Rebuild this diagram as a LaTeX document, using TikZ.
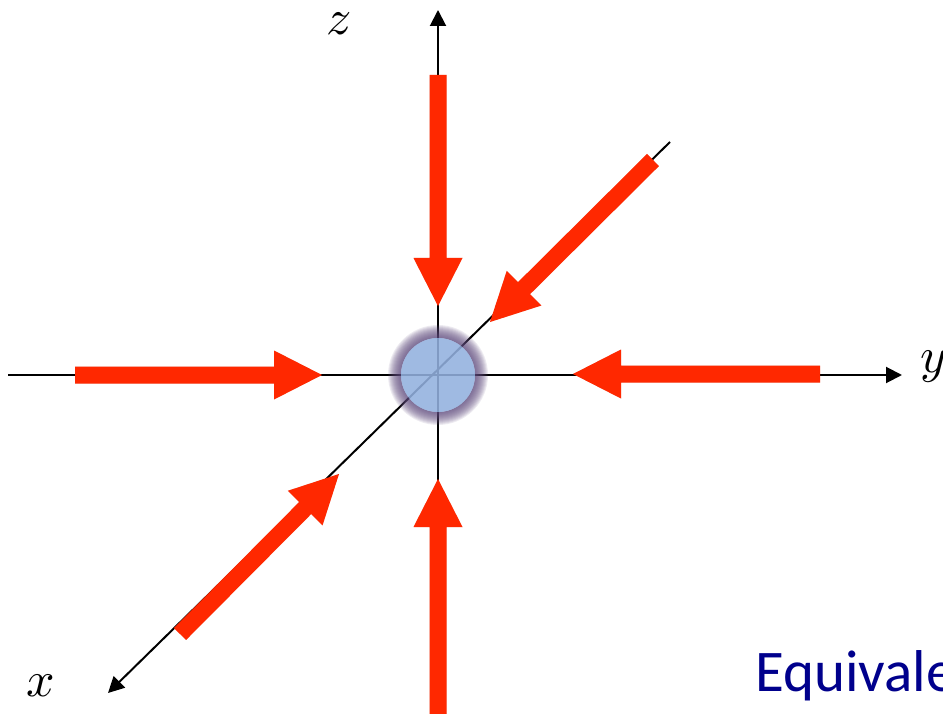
\documentclass[tikz,border=0pt]{standalone}
\usepackage{fontspec}
\newfontfamily\calibfont{Carlito}
\DeclareFontFamily{OML}{cmm}{\skewchar\font'177}
\DeclareFontShape{OML}{cmm}{m}{it}{<->cmmi10}{}
\usetikzlibrary{arrows.meta,calc}
\definecolor{fatred}{RGB}{255,40,0}
\definecolor{ballblue}{RGB}{146,176,222}
\definecolor{glowc}{RGB}{95,75,125}
\definecolor{eqblue}{RGB}{0,0,140}
\tikzset{
  axisline/.style={line width=2pt, line cap=butt},
  axisarrow/.style={axisline, -{Triangle[width=16pt,length=16pt]}},
  fatbody/.style={fill=fatred},
  fatshadow/.style={fill=black, opacity=0.12},
  axlabel/.style={font=\fontsize{50}{50}\selectfont, inner sep=0pt, anchor=base west},
}
\newcommand\fatarr[3]{% name, tail, tip
  \coordinate (#1b) at ($(#3)!48pt!(#2)$);
  \path[#1st] ($(#2)!8.5pt!90:(#3)$) -- ($(#1b)!8.5pt!90:(#3)$) -- ($(#1b)!24.5pt!90:(#3)$) -- (#3)
     -- ($(#1b)!24.5pt!-90:(#3)$) -- ($(#1b)!8.5pt!-90:(#3)$) -- ($(#2)!8.5pt!-90:(#3)$) -- cycle;
}
\begin{document}
\begin{tikzpicture}[x=1pt,y=-1pt]
\useasboundingbox (0,0) rectangle (943,714);
% axis coordinates
\coordinate (O) at (438,375);
\coordinate (yL) at (8,375);
\coordinate (yR) at (902,375);
\coordinate (zT) at (438,10);
\coordinate (zB) at (438,492);
\coordinate (dU) at (670,142);
\coordinate (xL) at (108,693);
% axes
\draw[axisarrow] (yL) -- (yR);
\draw[axisarrow] (zB) -- (zT);
\draw[axisarrow] (dU) -- (xL);
% glow ring and ball
\foreach \r in {50,49,...,38} \fill[glowc, opacity=0.11, even odd rule] (O) circle (\r pt) (O) circle (37pt);
\fill[ballblue, opacity=0.88] (O) circle (37pt);
% red arrow end points
\coordinate (tT) at (438,75);   \coordinate (tH) at (438,306);
\coordinate (lT) at (75,375);   \coordinate (lH) at (322,375);
\coordinate (rT) at (820,374);  \coordinate (rH) at (573,374);
\coordinate (bT) at (438,714);  \coordinate (bH) at (438,479);
\coordinate (uT) at (653,160);  \coordinate (uH) at (490,322);
\coordinate (dT) at (180,634);  \coordinate (dH) at (339,474);
% shadows
\begin{scope}[shift={(2,2.5)}]
\tikzset{sTst/.style=fatshadow,sLst/.style=fatshadow,sRst/.style=fatshadow,sBst/.style=fatshadow,sUst/.style=fatshadow,sDst/.style=fatshadow}
\fatarr{sT}{tT}{tH}
\fatarr{sL}{lT}{lH}
\fatarr{sR}{rT}{rH}
\fatarr{sB}{bT}{bH}
\fatarr{sU}{uT}{uH}
\fatarr{sD}{dT}{dH}
\end{scope}
\tikzset{aTst/.style=fatbody,aLst/.style=fatbody,aRst/.style=fatbody,aBst/.style=fatbody,aUst/.style=fatbody,aDst/.style=fatbody}
\fatarr{aT}{tT}{tH}
\fatarr{aL}{lT}{lH}
\fatarr{aR}{rT}{rH}
\fatarr{aB}{bT}{bH}
\fatarr{aU}{uT}{uH}
\fatarr{aD}{dT}{dH}
% labels
\node[axlabel] (zlab) at (326,35) {$z$};
\node[axlabel] (xlab) at (26,696) {$x$};
\node[axlabel] (ylab) at (920,372) {$y$};
\node[font=\calibfont\fontsize{59}{59}\selectfont, text=eqblue, inner sep=0pt, anchor=base west] (eq) at (755,691) {Equivalent};
\end{tikzpicture}
\end{document}
